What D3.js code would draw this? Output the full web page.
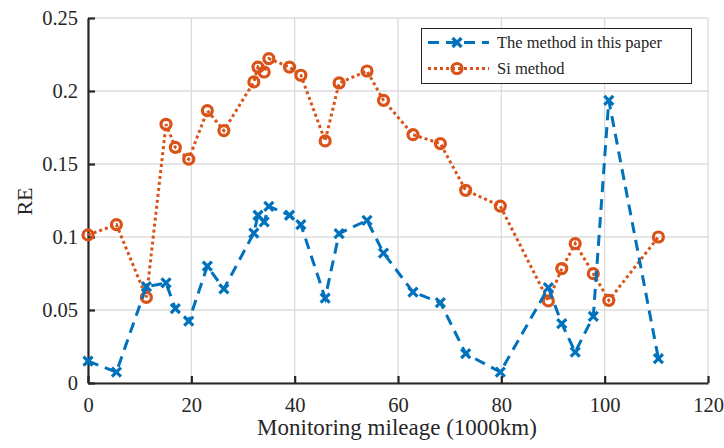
<!DOCTYPE html>
<html>
<head>
<meta charset="utf-8">
<script src="https://cdn.jsdelivr.net/npm/d3@7"></script>
<style>
  html, body { margin: 0; padding: 0; background: #fff; }
  svg { display: block; }
</style>
</head>
<body>
<svg id="chart" width="724" height="448" font-family="Liberation Serif, serif"></svg>
<script>
// Monitoring mileage (1000 km) at each sample
const mileage = [0, 5.5, 11.3, 15.1, 16.9, 19.5, 23.1, 26.3, 32.1, 32.9, 34.1, 35.0, 39.0, 41.2,
  45.9, 48.6, 54.0, 57.2, 62.9, 68.2, 73.1, 79.8, 89.1, 91.7, 94.3, 97.8, 100.8, 110.4];

// Relative error of the proposed method
const reProposed = [0.015, 0.0075, 0.066, 0.0685, 0.051, 0.0423, 0.080, 0.0644, 0.1027, 0.1149,
  0.1103, 0.121, 0.1149, 0.1085, 0.0582, 0.1023, 0.1114, 0.089, 0.0623, 0.0551, 0.0201, 0.0075,
  0.0653, 0.0407, 0.0212, 0.0457, 0.1936, 0.0167];

// Relative error of the Si method
const reSi = [0.1014, 0.1085, 0.0587, 0.1772, 0.1614, 0.1533, 0.1866, 0.1729, 0.2062, 0.2164,
  0.213, 0.2222, 0.2164, 0.2108, 0.1658, 0.2055, 0.2137, 0.1936, 0.1701, 0.164, 0.132, 0.1212,
  0.0562, 0.0784, 0.0955, 0.0749, 0.0566, 0.100];

const xTicks = [0, 20, 40, 60, 80, 100, 120];
const yTicks = [0, 0.05, 0.1, 0.15, 0.2, 0.25];
const yTickLabels = ["0", "0.05", "0.1", "0.15", "0.2", "0.25"];
const seriesNames = ["The method in this paper", "Si method"];

const BLUE = "#0072BD", ORANGE = "#D95319", AXIS = "#262626", GRID = "#dcdcdc";
const FONT = "Liberation Serif, serif";

const svg = d3.select("#chart");
const m = { left: 88, right: 16, top: 18, bottom: 65 };
const W = 724, H = 448;
const x = d3.scaleLinear().domain([0, 120]).range([m.left, W - m.right]);
const y = d3.scaleLinear().domain([0, 0.25]).range([H - m.bottom, m.top]);

// grid
const grid = svg.append("g");
grid.selectAll("line.gx").data(xTicks).join("line")
  .attr("x1", d => x(d)).attr("x2", d => x(d))
  .attr("y1", y(0)).attr("y2", y(0.25))
  .attr("stroke", GRID).attr("stroke-width", 1.3);
grid.selectAll("line.gy").data(yTicks).join("line")
  .attr("x1", x(0)).attr("x2", x(120))
  .attr("y1", d => y(d)).attr("y2", d => y(d))
  .attr("stroke", GRID).attr("stroke-width", 1.3);

// axes
const xAxis = d3.axisBottom(x).tickValues(xTicks).tickSizeInner(-7).tickSizeOuter(0).tickPadding(14);
const yAxis = d3.axisLeft(y).tickValues(yTicks).tickFormat((d, i) => yTickLabels[i])
  .tickSizeInner(-7).tickSizeOuter(0).tickPadding(10);

const gx = svg.append("g").attr("transform", `translate(0,${y(0)})`).call(xAxis);
const gy = svg.append("g").attr("transform", `translate(${x(0)},0)`).call(yAxis);
[gx, gy].forEach(g => {
  g.attr("font-family", FONT).attr("font-size", 20.5);
  g.select(".domain").attr("stroke", AXIS).attr("stroke-width", 2.2);
  g.selectAll(".tick line").attr("stroke", AXIS).attr("stroke-width", 2.2);
  g.selectAll(".tick text").attr("fill", AXIS);
});
gx.selectAll(".tick text").attr("dy", "0.71em");

// axis labels
svg.append("text").attr("x", (x(0) + x(120)) / 2 - 1).attr("y", 435).attr("text-anchor", "middle")
  .attr("font-size", 23).attr("fill", AXIS).text("Monitoring mileage (1000km)");
svg.append("text").attr("transform", `translate(31.5,${y(0.125) + 1}) rotate(-90)`)
  .attr("text-anchor", "middle").attr("font-size", 22).attr("fill", AXIS).text("RE");

const line = d3.line().x(d => x(d[0])).y(d => y(d[1]));
const proposed = mileage.map((d, i) => [d, reProposed[i]]);
const si = mileage.map((d, i) => [d, reSi[i]]);

function cross(g, cx, cy) {
  const s = 4.5;
  g.append("path")
    .attr("d", `M${cx - s},${cy - s}L${cx + s},${cy + s}M${cx - s},${cy + s}L${cx + s},${cy - s}`)
    .attr("stroke", BLUE).attr("stroke-width", 3.2).attr("fill", "none");
}
function ring(g, cx, cy) {
  g.append("circle").attr("cx", cx).attr("cy", cy).attr("r", 5)
    .attr("fill", "none").attr("stroke", ORANGE).attr("stroke-width", 3.2);
}

// Si method series
svg.append("path").datum(si).attr("d", line).attr("fill", "none")
  .attr("stroke", ORANGE).attr("stroke-width", 3).attr("stroke-dasharray", "3,3");
const gSi = svg.append("g");
si.forEach(d => ring(gSi, x(d[0]), y(d[1])));

// proposed method series
svg.append("path").datum(proposed).attr("d", line).attr("fill", "none")
  .attr("stroke", BLUE).attr("stroke-width", 3).attr("stroke-dasharray", "11,7");
const gP = svg.append("g");
proposed.forEach(d => cross(gP, x(d[0]), y(d[1])));

// legend
const lg = svg.append("g");
lg.append("rect").attr("x", 421.5).attr("y", 28.5).attr("width", 270).attr("height", 55)
  .attr("fill", "#fff").attr("stroke", AXIS).attr("stroke-width", 1);
const rows = [42.5, 68.5];
lg.append("line").attr("x1", 428).attr("x2", 489).attr("y1", rows[0]).attr("y2", rows[0])
  .attr("stroke", BLUE).attr("stroke-width", 3).attr("stroke-dasharray", "11,7");
cross(lg, 457, rows[0]);
lg.append("line").attr("x1", 428).attr("x2", 489).attr("y1", rows[1]).attr("y2", rows[1])
  .attr("stroke", ORANGE).attr("stroke-width", 3).attr("stroke-dasharray", "3,3");
ring(lg, 457, rows[1]);
seriesNames.forEach((n, i) => {
  lg.append("text").attr("x", 497).attr("y", rows[i]).attr("dy", "0.35em")
    .attr("font-size", 16.5).attr("fill", AXIS).text(n);
});
</script>
</body>
</html>
